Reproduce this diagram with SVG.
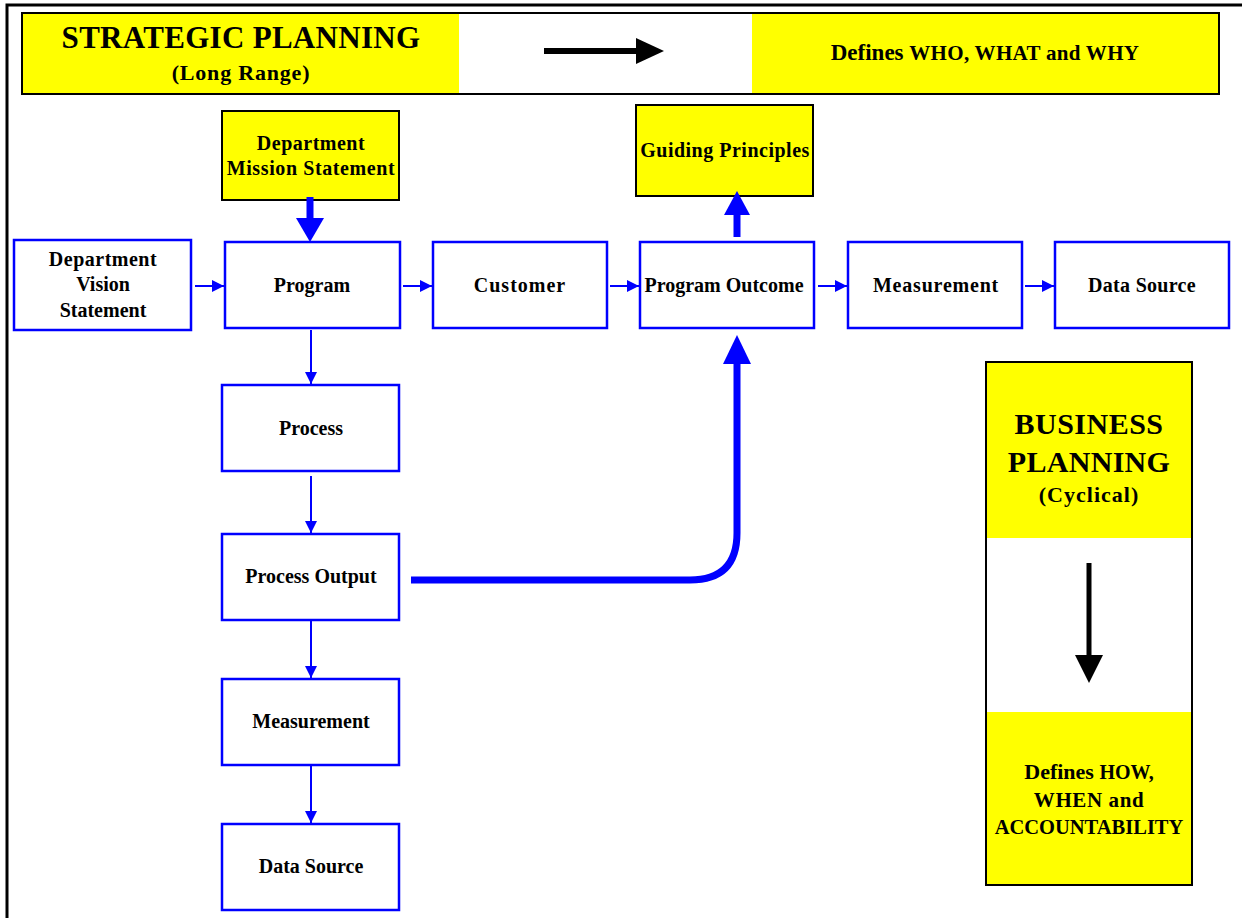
<svg xmlns="http://www.w3.org/2000/svg" width="1242" height="918" viewBox="0 0 1242 918">
<style>
text{font-family:"Liberation Serif","Times New Roman",serif;font-weight:bold;fill:#000;text-anchor:middle}
.bn{fill:#fff;stroke:#0000ff;stroke-width:2.5}
.yb{fill:#ffff00;stroke:#000;stroke-width:2}
.t18{font-size:20px}
.thin{stroke:#0000ff;stroke-width:2;fill:none}
</style>
<defs>
<marker id="ah" viewBox="0 0 10 10" refX="10" refY="5" markerWidth="6" markerHeight="6" markerUnits="strokeWidth" orient="auto"><path d="M0,0 L10,5 L0,10 z" fill="#0000ff"/></marker>
</defs>
<rect x="0" y="0" width="1242" height="918" fill="#fff"/>
<path d="M7,935 V5 H1260" fill="none" stroke="#000" stroke-width="3"/>
<g id="banner">
<rect x="22" y="13" width="1197" height="81" fill="#fff" stroke="#000" stroke-width="2"/>
<rect x="23" y="14" width="436" height="79" fill="#ffff00"/>
<rect x="752" y="14" width="466" height="79" fill="#ffff00"/>
<text x="241" y="48" style="font-size:31px;letter-spacing:0.3px">STRATEGIC PLANNING</text>
<text x="241" y="80" style="font-size:22px;letter-spacing:0.8px">(Long Range)</text>
<line x1="544" y1="51" x2="640" y2="51" stroke="#000" stroke-width="6"/>
<path d="M636,38 L664,51 L636,64 z" fill="#000"/>
<text x="985" y="60" style="font-size:23px">Defines <tspan style="font-size:21px;letter-spacing:0.3px"> WHO, WHAT and WHY</tspan></text>
</g>
<g id="mission"><rect class="yb" x="222" y="111" width="177" height="89"/><text class="t18" x="311" y="150" style="letter-spacing:0.5px">Department</text><text class="t18" x="311" y="175" style="letter-spacing:0.6px">Mission Statement</text></g>
<g id="guiding"><rect class="yb" x="636" y="105" width="177" height="91"/><text class="t18" x="725" y="157" style="letter-spacing:0.5px">Guiding Principles</text></g>
<g id="vision"><rect class="bn" x="14" y="240" width="177" height="90"/><text class="t18" x="103" y="266" style="letter-spacing:0.5px">Department</text><text class="t18" x="103" y="291">Vision</text><text class="t18" x="103" y="317">Statement</text></g>
<g id="program"><rect class="bn" x="225" y="242" width="175" height="86"/><text class="t18" x="312" y="292">Program</text></g>
<g id="customer"><rect class="bn" x="433" y="242" width="174" height="86"/><text class="t18" x="520" y="292" style="letter-spacing:1px">Customer</text></g>
<g id="outcome"><rect class="bn" x="640" y="242" width="174" height="86"/><text class="t18" x="724" y="292">Program Outcome</text></g>
<g id="measurement1"><rect class="bn" x="848" y="242" width="174" height="86"/><text class="t18" x="936" y="292" style="letter-spacing:0.8px">Measurement</text></g>
<g id="datasource1"><rect class="bn" x="1055" y="242" width="174" height="86"/><text class="t18" x="1142" y="292" style="letter-spacing:0.3px">Data Source</text></g>
<g id="process"><rect class="bn" x="222" y="385" width="177" height="86"/><text class="t18" x="311" y="435">Process</text></g>
<g id="processoutput"><rect class="bn" x="222" y="534" width="177" height="86"/><text class="t18" x="311" y="583">Process Output</text></g>
<g id="measurement2"><rect class="bn" x="222" y="679" width="177" height="86"/><text class="t18" x="311" y="728">Measurement</text></g>
<g id="datasource2"><rect class="bn" x="222" y="824" width="177" height="86"/><text class="t18" x="311" y="873">Data Source</text></g>
<g id="business">
<rect x="986" y="362" width="206" height="523" fill="#fff" stroke="#000" stroke-width="2"/>
<rect x="987" y="363" width="204" height="175" fill="#ffff00"/>
<rect x="987" y="712" width="204" height="172" fill="#ffff00"/>
<text x="1089" y="434" style="font-size:30px;letter-spacing:0.5px">BUSINESS</text>
<text x="1089" y="472" style="font-size:30px;letter-spacing:0.3px">PLANNING</text>
<text x="1089" y="502" style="font-size:22px;letter-spacing:1px">(Cyclical)</text>
<line x1="1089" y1="563" x2="1089" y2="660" stroke="#000" stroke-width="5"/>
<path d="M1075,655 L1103,655 L1089,683 z" fill="#000"/>
<text x="1089" y="779" style="font-size:22px">Defines <tspan style="font-size:20px">HOW,</tspan></text>
<text x="1089" y="807" style="font-size:21px;letter-spacing:0.6px">WHEN and</text>
<text x="1089" y="834" style="font-size:20.5px">ACCOUNTABILITY</text>
</g>
<g id="connectors">
<line class="thin" x1="195" y1="286" x2="224" y2="286" marker-end="url(#ah)"/>
<line class="thin" x1="403" y1="286" x2="432" y2="286" marker-end="url(#ah)"/>
<line class="thin" x1="610" y1="286" x2="639" y2="286" marker-end="url(#ah)"/>
<line class="thin" x1="818" y1="286" x2="847" y2="286" marker-end="url(#ah)"/>
<line class="thin" x1="1025" y1="286" x2="1054" y2="286" marker-end="url(#ah)"/>
<line class="thin" x1="311" y1="330" x2="311" y2="384" marker-end="url(#ah)"/>
<line class="thin" x1="311" y1="476" x2="311" y2="533" marker-end="url(#ah)"/>
<line class="thin" x1="311" y1="621" x2="311" y2="678" marker-end="url(#ah)"/>
<line class="thin" x1="311" y1="766" x2="311" y2="823" marker-end="url(#ah)"/>
<line x1="310" y1="197" x2="310" y2="222" stroke="#0000ff" stroke-width="7"/>
<path d="M296,218 L324,218 L310,242 z" fill="#0000ff"/>
<line x1="737" y1="237" x2="737" y2="210" stroke="#0000ff" stroke-width="7"/>
<path d="M724,215 L750,215 L737,191 z" fill="#0000ff"/>
<path d="M411,580 H690 Q737,580 737,533 V360" fill="none" stroke="#0000ff" stroke-width="7"/>
<path d="M723,364 L751,364 L737,335 z" fill="#0000ff"/>
</g>
</svg>
